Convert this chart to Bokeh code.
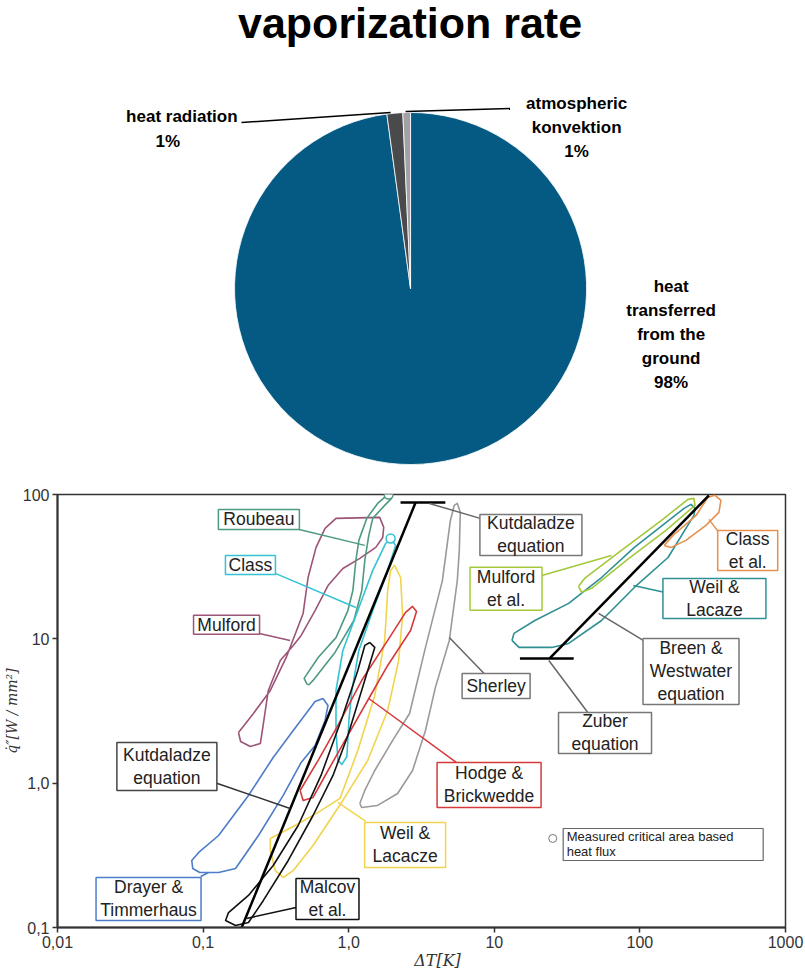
import numpy as np
from bokeh.plotting import figure
from bokeh.layouts import column
from bokeh.models import Range1d, FixedTicker
from bokeh.core.properties import value
from bokeh.embed import file_html
from bokeh.resources import INLINE

FONT = "Liberation Sans"

# ---------------- pie data ----------------
pie_title = "vaporization rate"
pie_names = ["heat transferred from the ground", "heat radiation", "atmospheric konvektion"]
pie_values = [97.85, 1.45, 0.7]
pie_colors = ["#045a82", "#4a4a4d", "#a2a2a6"]

# ---------------- log-log chart data (ΔT [K], q [W/mm²]) ----------------
x_ticks = [0.01, 0.1, 1, 10, 100, 1000]
x_tick_labels = ["0,01", "0,1", "1,0", "10", "100", "1000"]
y_ticks = [0.1, 1, 10, 100]
y_tick_labels = ["0,1", "1,0", "10", "100"]

roubeau_dT = [0.518, 0.494, 0.617, 0.818, 0.987, 1.068, 1.12, 1.174, 1.33, 1.58, 1.795, 1.88, 1.97, 1.74, 1.463, 1.374, 1.29, 1.23, 1.085, 0.805, 0.569, 0.535, 0.518]
roubeau_q = [4.83, 5.32, 7.43, 10.2, 15.7, 21.6, 34.9, 48.1, 68.3, 86.7, 97, 100, 94, 82.7, 68.3, 52.1, 34.9, 21.6, 13.4, 8.05, 5.15, 4.83, 4.83]

class_dT = [1.94, 1.795, 1.463, 1.155, 0.912, 0.818, 0.818, 0.843, 0.899, 0.972, 1.003, 1.052, 1.174, 1.463, 1.824, 2.10, 1.94]
class_q = [49.6, 45.8, 29.8, 15.7, 8.31, 4.39, 2.32, 1.44, 1.35, 1.53, 2.72, 4.39, 8.31, 15.7, 28.4, 44.4, 49.6]

mulford_dT = [0.175, 0.2216, 0.2895, 0.3724, 0.4864, 0.526, 0.597, 0.688, 0.818, 1.633, 1.74, 1.713, 1.534, 1.192, 0.912, 0.721, 0.5875, 0.4716, 0.416, 0.339, 0.2805, 0.2594, 0.2474, 0.211, 0.181, 0.175]
mulford_q = [2.245, 3.04, 4.39, 7.43, 15.0, 26.6, 43.0, 58.2, 68.3, 69.4, 59.2, 50.4, 43.0, 36.1, 30.7, 23.4, 15.7, 10.56, 9.0, 7.08, 4.39, 2.59, 1.884, 1.796, 1.945, 2.245]

drayer_dT = [0.6665, 0.5875, 0.416, 0.303, 0.2049, 0.1278, 0.0933, 0.0836, 0.0849, 0.0948, 0.1278, 0.167, 0.240, 0.355, 0.4716, 0.5875, 0.688, 0.721, 0.6665]
drayer_q = [3.86, 3.68, 2.32, 1.507, 0.822, 0.434, 0.331, 0.2913, 0.2564, 0.2406, 0.2406, 0.2564, 0.434, 0.822, 1.392, 1.825, 2.72, 3.455, 3.86]

hodge_dT = [0.464, 0.617, 0.843, 1.227, 1.853, 2.458, 2.745, 2.923, 2.66, 1.853, 1.374, 0.987, 0.721, 0.569, 0.4864, 0.464]
hodge_q = [0.890, 1.44, 2.51, 5.14, 9.75, 15.24, 16.77, 15.49, 11.43, 6.54, 3.86, 2.14, 1.224, 0.796, 0.759, 0.890]

weil_dT = [0.2895, 0.416, 0.617, 0.871, 1.155, 1.51, 1.767, 1.853, 1.94, 2.068, 2.273, 2.345, 2.203, 1.853, 1.352, 0.912, 0.569, 0.416, 0.355, 0.3133, 0.2895, 0.2895]
weil_q = [0.414, 0.501, 0.627, 0.784, 1.685, 4.055, 9.75, 21.6, 29.8, 32.3, 26.6, 14.5, 7.08, 3.19, 1.44, 0.759, 0.370, 0.248, 0.222, 0.248, 0.342, 0.414]

sherley_dT = [1.192, 1.29, 1.51, 2.005, 2.618, 3.368, 4.40, 4.99, 5.31, 5.57, 5.84, 5.75, 5.57, 4.91, 3.94, 3.368, 2.745, 2.168, 1.58, 1.227, 1.192]
sherley_q = [0.723, 0.890, 1.224, 1.98, 3.04, 8.72, 25.3, 66, 84.1, 86.7, 75.2, 41.0, 25.3, 9.75, 4.61, 2.32, 1.224, 0.848, 0.701, 0.679, 0.723]

malcov_dT = [1.396, 1.51, 1.227, 0.987, 0.780, 0.569, 0.3843, 0.2594, 0.2049, 0.167, 0.1427, 0.1495, 0.2049, 0.303, 0.4498, 0.6455, 0.912, 1.155, 1.29, 1.396]
malcov_q = [9.44, 8.72, 4.39, 2.14, 1.131, 0.597, 0.2913, 0.154, 0.1083, 0.1032, 0.1118, 0.127, 0.1667, 0.269, 0.509, 1.131, 2.945, 6.04, 9.0, 9.44]

mulford_al_dT = [37.9, 41.7, 74.6, 140, 214, 235, 239, 151, 80.7, 46.6, 39.8, 37.9]
mulford_al_q = [23.1, 26.2, 41.0, 66, 92.5, 94.0, 84.1, 56.4, 34.9, 22.4, 21.0, 23.1]

lacaze_dT = [13.23, 13.65, 19.0, 32.4, 54.5, 91.6, 201, 224, 239, 235, 156, 91.6, 54.5, 32.4, 24.8, 14.77, 13.23]
lacaze_q = [9.75, 10.9, 13.4, 17.6, 26.6, 43.0, 80.1, 85.4, 80.1, 71.6, 36.6, 22.7, 13.4, 9.29, 8.72, 8.72, 9.75]

class_al_dT = [146.8, 169, 243, 293, 327, 360, 349, 284, 207, 164, 146.8]
class_al_q = [44.4, 52.1, 71.6, 95.5, 99, 91.0, 75.2, 61.1, 48.1, 43.0, 44.4]

kutateladze_dT = [0.184, 2.88]
kutateladze_q = [0.1, 88]
kutateladze_bar_dT = [2.27, 4.61]
kutateladze_bar_q = [88, 88]

zuber_dT = [24.0, 298]
zuber_q = [7.31, 98.6]
zuber_bar_dT = [15.0, 35.1]
zuber_bar_q = [7.31, 7.31]

critical_dT = [1.88, 1.94]
critical_q = [100, 49.6]

# ---------------- styles ----------------
C_GREEN = "#4e9a82"
C_CYAN = "#33c3d4"
C_PURPLE = "#9c5478"
C_LIME = "#a4c83c"
C_ORANGE = "#e8914e"
C_TEAL = "#2e8f94"
C_GRAY = "#9a9a9a"
C_DGRAY = "#666666"
C_RED = "#d6393b"
C_YELLOW = "#f2d44c"
C_BLUE = "#4d7cc9"
C_BLACK = "#111111"

W = 805
BL, BR = 53, 20          # left / right borders shared by both plots
H1, H2 = 478, 494

# ================= pie figure =================
p1 = figure(width=W, height=H1, x_range=Range1d(BL, W - BR), y_range=Range1d(0, H1),
            x_axis_type=None, y_axis_type=None, output_backend="svg",
            toolbar_location=None, min_border_left=BL, min_border_right=BR,
            min_border_top=0, min_border_bottom=0)
p1.grid.visible = False
p1.outline_line_color = None

total = sum(pie_values)
cum = np.cumsum([0.0] + pie_values) / total
ends = np.pi / 2 - 2 * np.pi * cum[:-1]
starts = np.pi / 2 - 2 * np.pi * cum[1:]
p1.wedge(x=408, y=190, radius=177, start_angle=list(starts), end_angle=list(ends),
         fill_color=pie_colors, line_color="white", line_width=0.8)

pct = [f"{round(v / total * 100):d}%" for v in pie_values]

p1.text(x=[407.5], y=[455.5], text=[pie_title], text_font=value(FONT), text_font_style="bold",
        text_font_size="43px", text_align="center", text_baseline="middle", text_color="#000000")

lab_x = [178, 164, 575, 575, 575, 670, 670, 670, 670, 670]
lab_y = [362, 337, 375, 351, 327, 192, 168, 144, 120, 96]
lab_t = ["heat radiation", pct[1], "atmospheric", "konvektion", pct[2],
         "heat", "transferred", "from the", "ground", pct[0]]
p1.text(x=lab_x, y=lab_y, text=lab_t, text_font=value(FONT), text_font_style="bold",
        text_font_size="17px", text_align="center", text_baseline="middle", text_color="#000000")

p1.line(x=[238, 388], y=[356, 366], line_color="black", line_width=1.5)
p1.line(x=[403, 508], y=[367, 370], line_color="black", line_width=1.5)

# ================= log-log figure =================
p2 = figure(width=W, height=H2, x_axis_type="log", y_axis_type="log",
            x_range=Range1d(0.01, 1000), y_range=Range1d(0.1, 100),
            output_backend="svg", toolbar_location=None,
            min_border_left=BL, min_border_right=BR, min_border_top=16, min_border_bottom=45)
p2.grid.visible = False
p2.outline_line_color = "#333333"
p2.outline_line_width = 1.5

p2.xaxis.ticker = FixedTicker(ticks=x_ticks, minor_ticks=[])
p2.yaxis.ticker = FixedTicker(ticks=y_ticks, minor_ticks=[])
p2.xaxis.major_label_overrides = {float(t): s for t, s in zip(x_ticks, x_tick_labels)}
p2.yaxis.major_label_overrides = {float(t): s for t, s in zip(y_ticks, y_tick_labels)}
for ax in (p2.xaxis, p2.yaxis):
    ax.axis_line_color = "#333333"
    ax.axis_line_width = 2
    ax.major_tick_line_color = "#333333"
    ax.major_tick_line_width = 1.5
    ax.major_tick_out = 5
    ax.major_tick_in = 0
    ax.minor_tick_line_color = None
    ax.major_label_text_font = FONT
    ax.major_label_text_font_size = "16px"
    ax.major_label_text_color = "#333333"
    ax.axis_label_text_font = "DejaVu Serif"
    ax.axis_label_text_font_style = "italic"
    ax.axis_label_text_color = "#333333"
    ax.axis_label_standoff = 0
p2.xaxis.major_label_standoff = 3
p2.yaxis.major_label_standoff = 3
p2.xaxis.axis_label = "\u2002\u2002\u2002\u2002ΔT[K]"
p2.xaxis.axis_label_text_font_size = "16px"
p2.yaxis.axis_label = "q\u0307\u2033[W / mm²]"
p2.yaxis.axis_label_text_font_size = "14px"

shapes = [
    (mulford_dT, mulford_q, C_PURPLE),
    (roubeau_dT, roubeau_q, C_GREEN),
    (class_dT, class_q, C_CYAN),
    (drayer_dT, drayer_q, C_BLUE),
    (sherley_dT, sherley_q, C_GRAY),
    (weil_dT, weil_q, C_YELLOW),
    (hodge_dT, hodge_q, C_RED),
    (malcov_dT, malcov_q, C_BLACK),
    (lacaze_dT, lacaze_q, C_TEAL),
    (mulford_al_dT, mulford_al_q, C_LIME),
    (class_al_dT, class_al_q, C_ORANGE),
]
for xs, ys, c in shapes:
    p2.line(x=xs, y=ys, line_color=c, line_width=1.6, line_join="round")

p2.line(x=kutateladze_dT, y=kutateladze_q, line_color="black", line_width=2.5)
p2.line(x=kutateladze_bar_dT, y=kutateladze_bar_q, line_color="black", line_width=2.5)
p2.line(x=zuber_dT, y=zuber_q, line_color="black", line_width=2.5)
p2.line(x=zuber_bar_dT, y=zuber_bar_q, line_color="black", line_width=2.5)

p2.scatter(x=critical_dT, y=critical_q, marker="circle", size=9, fill_color="white",
           line_color=[C_GREEN, C_CYAN], line_width=1.5)

# leader lines
leaders = [
    ([0.457, 1.29], [57.3, 44.4], C_GREEN),
    ([0.3133, 1.12], [28.4, 16.5], C_CYAN),
    ([0.2435, 0.396], [10.9, 9.75], C_PURPLE),
    ([3.585, 8.0], [86.7, 68.3], C_DGRAY),
    ([21.2, 63.8], [27.5, 37.8], C_LIME),
    ([298, 349], [67.2, 54.6], C_ORANGE),
    ([90.2, 146.8], [23.4, 21.0], C_TEAL),
    ([52.0, 105.5], [15.0, 9.75], C_DGRAY),
    ([23.7, 44.4], [7.08, 3.04], C_DGRAY),
    ([4.91, 8.51], [10.2, 5.76], C_DGRAY),
    ([1.374, 5.48], [3.86, 1.392], C_RED),
    ([0.124, 0.396], [1.0, 0.668], "#333333"),
    ([0.843, 1.31], [0.735, 0.543], C_YELLOW),
    ([0.1985, 0.4355], [0.1155, 0.1376], C_BLACK),
    ([0.0963, 0.109], [0.2256, 0.2406], C_BLUE),
]
for xs, ys, c in leaders:
    p2.line(x=xs, y=ys, line_color=c, line_width=1.5)

# label boxes: (lines, x, y, width px, height px, border colour)
boxes = [
    (["Roubeau"], 0.2416, 67.2, 81, 20, C_GREEN),
    (["Class"], 0.2114, 32.5, 50, 19, C_CYAN),
    (["Mulford"], 0.1449, 12.5, 66, 19, C_PURPLE),
    (["Kutdaladze", "equation"], 17.84, 52.5, 102, 41, "#777777"),
    (["Mulford", "et al."], 12.04, 22.2, 72, 43, C_LIME),
    (["Class", "et al."], 550, 41.0, 60, 40, C_ORANGE),
    (["Weil &", "Lacaze"], 325, 19.05, 103, 40, C_TEAL),
    (["Sherley"], 10.29, 4.72, 68, 25, "#777777"),
    (["Breen &", "Westwater", "equation"], 224.4, 5.94, 96, 66, "#777777"),
    (["Zuber", "equation"], 57.6, 2.228, 93, 41, "#777777"),
    (["Hodge &", "Brickwedde"], 9.21, 0.972, 104, 45, C_RED),
    (["Kutdaladze", "equation"], 0.0564, 1.305, 100, 48, "#444444"),
    (["Weil &", "Lacacze"], 2.44, 0.373, 81, 45, C_YELLOW),
    (["Drayer &", "Timmerhaus"], 0.0422, 0.1576, 105, 43, C_BLUE),
    (["Malcov", "et al."], 0.715, 0.1576, 63, 41, C_BLACK),
]
for lines, bx, by, bw, bh, c in boxes:
    p2.rect(x=[bx], y=[by], width=[bw], height=[bh], width_units="screen", height_units="screen",
            fill_color="white", line_color=c, line_width=1.5)
    n = len(lines)
    offs = [(i - (n - 1) / 2) * 23 for i in range(n)]
    p2.text(x=[bx] * n, y=[by] * n, text=lines, y_offset=offs, text_font=value(FONT),
            text_font_size="17.5px", text_align="center", text_baseline="middle", text_color="#222222")

# measured critical heat flux legend
p2.rect(x=[144.5], y=[0.376], width=[200], height=[32], width_units="screen", height_units="screen",
        fill_color="white", line_color="#666666", line_width=1.2)
p2.text(x=[31.4, 31.4], y=[0.376, 0.376], text=["Measured critical area based", "heat flux"],
        y_offset=[-7.5, 7.5], text_font=value(FONT), text_font_size="13px",
        text_align="left", text_baseline="middle", text_color="#222222")
p2.scatter(x=[25.2], y=[0.414], marker="circle", size=8, fill_color="white",
           line_color="#777777", line_width=1)

layout = column(p1, p2, spacing=0)
open("out.html", "w").write(file_html(layout, INLINE))
